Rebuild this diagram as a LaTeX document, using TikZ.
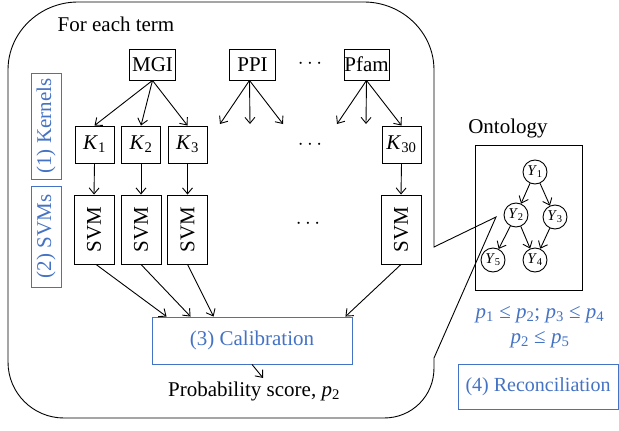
\documentclass[tikz,border=0pt]{standalone}
\usepackage{fontspec}
\setmainfont{Liberation Serif}
\usetikzlibrary{arrows.meta,calc}
\definecolor{stepblue}{RGB}{68,114,196}
\newcommand{\itsub}[2]{\textit{#1}\textsubscript{#2}}
\begin{document}
\begin{tikzpicture}[x=1pt,y=-1pt,
  every node/.style={font=\fontsize{21}{25}\selectfont},
  box/.style={draw, line width=0.9pt, inner sep=0pt},
  srcbox/.style={box, minimum width=46, minimum height=31},
  kernbox/.style={box, minimum width=39, minimum height=37},
  svmbox/.style={box, minimum width=40, minimum height=69},
  stepbox/.style={draw=stepblue, text=stepblue, line width=0.9pt, inner sep=0pt},
  ynode/.style={circle, draw, line width=0.9pt, minimum size=24, inner sep=0pt, font=\fontsize{15}{17}\selectfont},
  arr/.style={-{Straight Barb[length=6pt,width=10pt]}, line width=0.9pt}]
\useasboundingbox (0,0) rectangle (619,431);
\node (title) at (116,24) {For each term};
\node[srcbox] (mgi) at (152.5,64.5) {MGI};
\node[srcbox] (ppi) at (252.5,64.5) {PPI};
\node (dots1) at (310,64) {$\cdots$};
\node[srcbox, minimum width=45] (pfam) at (366.5,64.5) {Pfam};
\node[kernbox] (k1) at (94.5,144.5) {\itsub{K}{1}};
\node[kernbox] (k2) at (141,144.5) {\itsub{K}{2}};
\node[kernbox] (k3) at (187.5,144.5) {\itsub{K}{3}};
\node (dots2) at (310,145) {$\cdots$};
\node[kernbox] (k30) at (401.5,144.5) {\itsub{K}{30}};
\coordinate (ppi1) at (220,124);
\coordinate (ppi2) at (250,124);
\coordinate (ppi3) at (283,124);
\coordinate (pfam1) at (337,124);
\coordinate (pfam2) at (366,124);
\draw[arr](mgi.south) -- (k1.north);
\draw[arr](mgi.south) -- (k2.north);
\draw[arr](mgi.south) -- (k3.north);
\draw[arr]($(ppi.south)+(-3,0)$) -- (ppi1);
\draw[arr]($(ppi.south)+(-3,0)$) -- (ppi2);
\draw[arr]($(ppi.south)+(-3,0)$) -- (ppi3);
\draw[arr](pfam.south) -- (pfam1);
\draw[arr](pfam.south) -- (pfam2);
\draw[arr](pfam.south) -- (k30.north);
\node[svmbox] (svm1) at (94,229.5) {\rotatebox{90}{SVM}};
\node[svmbox] (svm2) at (141,229.5) {\rotatebox{90}{SVM}};
\node[svmbox] (svm3) at (187.5,229.5) {\rotatebox{90}{SVM}};
\node (dots3) at (308,224) {$\cdots$};
\node[svmbox] (svm30) at (401,229.5) {\rotatebox{90}{SVM}};
\draw[arr](k1.south) -- (svm1.north);
\draw[arr](k2.south) -- (svm2.north);
\draw[arr](k3.south) -- (svm3.north);
\draw[arr](k30.south) -- (svm30.north);
\node[stepbox, minimum width=30, minimum height=106] (kernlab) at (46,126) {\rotatebox{90}{(1) Kernels}};
\node[stepbox, minimum width=30, minimum height=101] (svmlab) at (46,236.5) {\rotatebox{90}{(2) SVMs}};
\node[stepbox, minimum width=200, minimum height=47] (cal) at (252,340.5) {(3) Calibration};
\draw[arr]($(svm1.south)+(2,0)$) -- ($(cal.north west)+(15,0)$);
\draw[arr](svm2.south) -- ($(cal.north west)+(39,0)$);
\draw[arr](svm3.south) -- ($(cal.north west)+(62,0)$);
\draw[arr](svm30.south) -- ($(cal.north east)+(-7,0)$);
\node (prob) at (254,391) {Probability score, \textit{p}\textsubscript{2}};
\draw[arr](cal.south) -- ($(prob.north)+(9,0)$);
\node (ontolab) at (508,128) {Ontology};
\node[box, minimum width=107, minimum height=145] (onto) at (528.5,217.5) {};
\node[ynode] (y1) at (535,172) {\itsub{Y}{1}};
\node[ynode] (y2) at (516,215) {\itsub{Y}{2}};
\node[ynode] (y3) at (555,217) {\itsub{Y}{3}};
\node[ynode] (y5) at (493,260) {\itsub{Y}{5}};
\node[ynode] (y4) at (535,260) {\itsub{Y}{4}};
\draw[arr](y1) -- (y2);
\draw[arr](y1) -- (y3);
\draw[arr](y2) -- (y5);
\draw[arr](y2) -- (y4);
\draw[arr](y3) -- (y4);
\coordinate (tip) at (496,217);
\draw[line width=0.9pt] (434,247) -- (434,70) .. controls (434,32) and (402,2) .. (364,2) -- (78,2) .. controls (40,2) and (8,32) .. (8,70) -- (8,362) .. controls (8,393) and (33,418) .. (64,418) -- (384,418) .. controls (412,418) and (434,396) .. (434,368) -- (434,358) -- (tip) -- cycle;
\node[text=stepblue, font=\fontsize{21}{25}\selectfont] (cons1) at (540,315) {\textit{p}\textsubscript{1} ≤ \textit{p}\textsubscript{2}; \textit{p}\textsubscript{3} ≤ \textit{p}\textsubscript{4}};
\node[text=stepblue, font=\fontsize{21}{25}\selectfont] (cons2) at (540,340) {\textit{p}\textsubscript{2} ≤ \textit{p}\textsubscript{5}};
\node[stepbox, minimum width=160, minimum height=45, font=\fontsize{20}{24}\selectfont] (recon) at (538,386.5) {(4) Reconciliation};
\end{tikzpicture}
\end{document}
